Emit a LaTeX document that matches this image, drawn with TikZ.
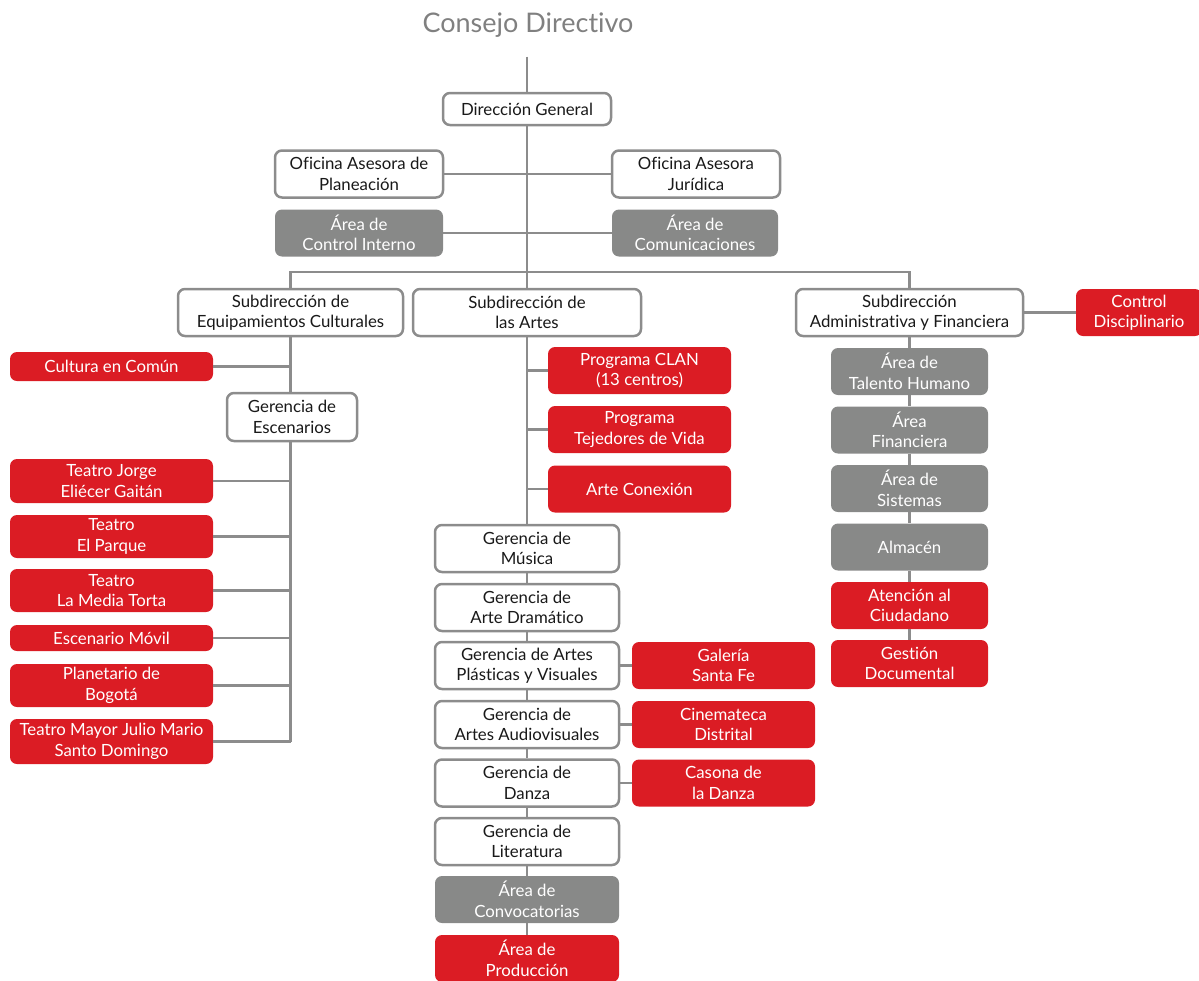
\documentclass[tikz,border=0pt]{standalone}
\usepackage{fontspec}
\setmainfont{Lato}[Ligatures=NoCommon]
\definecolor{linegray}{RGB}{140,140,140}
\definecolor{areagray}{RGB}{136,137,136}
\definecolor{programred}{RGB}{219,28,36}
\definecolor{titlegray}{RGB}{128,128,128}
\definecolor{boxtext}{RGB}{25,25,25}

\begin{document}
\begin{tikzpicture}[x=1pt, y=-1pt]
            \tikzstyle{every node} = [align=center, inner sep=0pt, rounded corners=7pt,
                font=\fontsize{16.8}{20.5}\selectfont]
            \tikzstyle{office} = [draw=linegray, line width=2.5pt, fill=white, text=boxtext]
            \tikzstyle{area} = [fill=areagray, text=white]
            \tikzstyle{program} = [fill=programred, text=white]
            \tikzstyle{link} = [draw=linegray, line width=2.8pt]
            \useasboundingbox (0, 0) rectangle (1199, 980);

            \node[text=titlegray, font=\fontsize{27}{30}\selectfont] (cd) at (528, 25) {Consejo Directivo};
            \node[office, minimum width=168, minimum height=32] (dg) at (527, 109) {Dirección General};
            \node[office, minimum width=168, minimum height=47] (oap) at (359, 174) {Oficina Asesora de\\Planeación};
            \node[office, minimum width=168, minimum height=47] (oaj) at (696, 174) {Oficina Asesora\\Jurídica};
            \node[area, minimum width=168, minimum height=47] (aci) at (359, 233) {Área de\\Control Interno};
            \node[area, minimum width=166, minimum height=47] (acom) at (695, 233) {Área de\\Comunicaciones};

            \node[office, minimum width=225, minimum height=47] (sec) at (290.5, 312.5) {Subdirección de\\Equipamientos Culturales};
            \node[office, minimum width=228, minimum height=47] (sda) at (527, 312.5) {Subdirección de\\las Artes};
            \node[office, minimum width=227, minimum height=47] (saf) at (909.5, 312.5) {Subdirección\\Administrativa y Financiera};
            \node[program, minimum width=126, minimum height=47] (cdis) at (1139, 312.5) {Control\\Disciplinario};

            \node[program, minimum width=203, minimum height=29] (cec) at (111.5, 366.5) {Cultura en Común};
            \node[office, minimum width=130, minimum height=48] (ges) at (292, 417) {Gerencia de\\Escenarios};
            \node[program, minimum width=203, minimum height=44] (tjeg) at (111.5, 481) {Teatro Jorge\\Eliécer Gaitán};
            \node[program, minimum width=203, minimum height=43] (tep) at (111.5, 536.5) {Teatro\\El Parque};
            \node[program, minimum width=203, minimum height=43] (tlmt) at (111.5, 590.5) {Teatro\\La Media Torta};
            \node[program, minimum width=203, minimum height=26] (emov) at (111.5, 638) {Escenario Móvil};
            \node[program, minimum width=203, minimum height=43] (pbog) at (111.5, 685.5) {Planetario de\\Bogotá};
            \node[program, minimum width=203, minimum height=45] (tmay) at (111.5, 741.5) {Teatro Mayor Julio Mario\\Santo Domingo};

            \node[program, minimum width=183, minimum height=47] (clan) at (639.5, 370.5) {Programa CLAN\\(13 centros)};
            \node[program, minimum width=183, minimum height=47] (tvid) at (639.5, 429.5) {Programa\\Tejedores de Vida};
            \node[program, minimum width=183, minimum height=47] (acnx) at (639.5, 489) {Arte Conexión};
            \node[office, minimum width=184, minimum height=47] (gmus) at (527, 548.5) {Gerencia de\\Música};
            \node[office, minimum width=184, minimum height=47] (gdra) at (527, 607.5) {Gerencia de\\Arte Dramático};
            \node[office, minimum width=184, minimum height=47] (gpla) at (527, 665.5) {Gerencia de Artes\\Plásticas y Visuales};
            \node[office, minimum width=184, minimum height=47] (gaud) at (527, 724.5) {Gerencia de\\Artes Audiovisuales};
            \node[office, minimum width=184, minimum height=47] (gdan) at (527, 783) {Gerencia de\\Danza};
            \node[office, minimum width=184, minimum height=47] (glit) at (527, 841.5) {Gerencia de\\Literatura};
            \node[area, minimum width=184, minimum height=47] (aconv) at (527, 899.5) {Área de\\Convocatorias};
            \node[program, minimum width=184, minimum height=47] (aprod) at (527, 958.5) {Área de\\Producción};
            \node[program, minimum width=183, minimum height=47] (gsfe) at (723.5, 665.5) {Galería\\Santa Fe};
            \node[program, minimum width=183, minimum height=47] (cdst) at (723.5, 724.5) {Cinemateca\\Distrital};
            \node[program, minimum width=183, minimum height=47] (cdnz) at (723.5, 783) {Casona de\\la Danza};

            \node[area, minimum width=157, minimum height=47] (ath) at (909.5, 371.5) {Área de\\Talento Humano};
            \node[area, minimum width=157, minimum height=47] (afin) at (909.5, 430) {Área\\Financiera};
            \node[area, minimum width=157, minimum height=47] (asis) at (909.5, 488.5) {Área de\\Sistemas};
            \node[area, minimum width=157, minimum height=47] (alm) at (909.5, 547) {Almacén};
            \node[program, minimum width=157, minimum height=47] (aciu) at (909.5, 605.5) {Atención al\\Ciudadano};
            \node[program, minimum width=157, minimum height=47] (gdoc) at (909.5, 663.5) {Gestión\\Documental};

            \coordinate (hub) at (527, 272);
            \draw[link] ([yshift=-19pt]cd.south -| dg.north) -- (dg.north);
            \draw[link] (dg.south) -- (hub);
            \draw[link] (oap.east) -- (oap.east -| dg.south);
            \draw[link] (oaj.west) -- (oaj.west -| dg.south);
            \draw[link] (aci.east) -- (aci.east -| dg.south);
            \draw[link] (acom.west) -- (acom.west -| dg.south);
            \draw[link] (sec.north) -- (sec.north |- hub) -| (saf.north);
            \draw[link] (hub) -- (sda.north);
            \draw[link] (saf.east) -- (cdis.west);

            \draw[link] (sec.south) -- (ges.north -| sec.south);
            \draw[link] (ges.south -| sec.south) -- (tmay.east -| sec.south);
            \draw[link] (cec.east) -- (cec.east -| sec.south);
            \foreach \stage in {tjeg, tep, tlmt, emov, pbog, tmay}
                \draw[link] (\stage.east) -- (\stage.east -| sec.south);

            \draw[link] (sda.south) -- (gmus.north);
            \foreach \prog in {clan, tvid, acnx}
                \draw[link] (\prog.west) -- (\prog.west -| sda.south);
            \draw[link] (gmus) -- (gdra) -- (gpla) -- (gaud) -- (gdan) -- (glit) -- (aconv) -- (aprod);
            \draw[link] (gpla.east) -- (gsfe.west);
            \draw[link] (gaud.east) -- (cdst.west);
            \draw[link] (gdan.east) -- (cdnz.west);

            \draw[link] (saf.south) -- (ath.north);
            \draw[link] (ath) -- (afin) -- (asis) -- (alm) -- (aciu) -- (gdoc);
        \end{tikzpicture}
\end{document}
